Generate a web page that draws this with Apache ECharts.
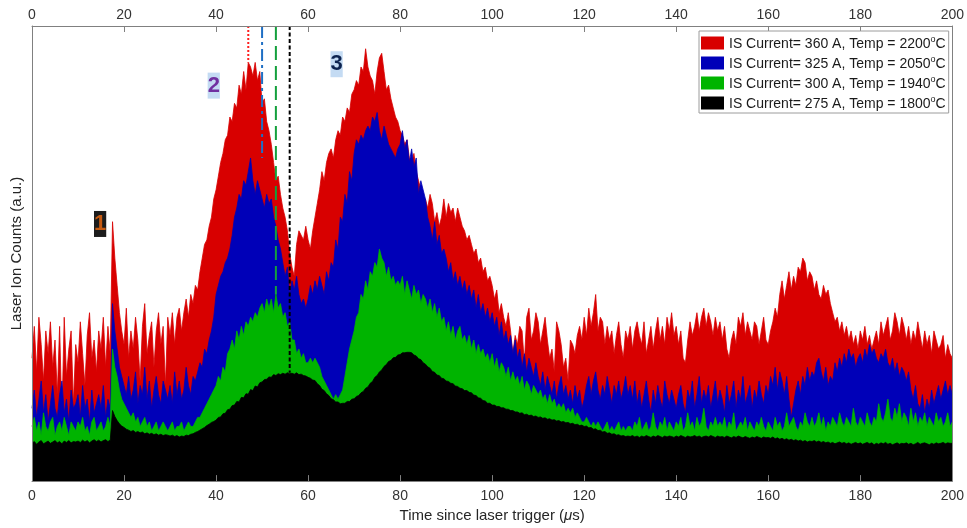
<!DOCTYPE html>
<html>
<head>
<meta charset="utf-8">
<title>Laser ion counts vs. time</title>
<script src="https://cdn.jsdelivr.net/npm/echarts@6/dist/echarts.min.js"></script>
<style>
  html, body { margin: 0; padding: 0; background: #ffffff; }
  #chart { width: 967px; height: 528px; }
</style>
</head>
<body>
<div id="chart"></div>
<script>
// Sampling step of the recorded traces (µs)
const T_STEP = 0.5;

// Ion counts (a.u.), one value per 0.5 µs from 0 to 200 µs
const redCounts = [
  27,34,24,36,30,22,33,28,35,25,31,19,34,14,36,23,29,33,17,30,
  26,35,28,21,32,37,27,31,24,33,29,36,25,34,28,57,49,43,37,33,
  30,38,27,33,29,36,31,22,34,39,28,32,35,25,33,37,30,34,21,36,
  32,37,30,36,38,33,37,40,36,41,39,43,42,46,49,52,53,56,58,62,
  64,67,70,72,75,76,80,79,83,82,87,85,90,86,92,91,89,92,88,90,
  83,84,79,77,74,70,66,67,63,60,58,55,50,47,45,52,55,54,53,56,
  53,51,55,58,61,64,68,66,70,72,73,71,75,77,76,80,79,82,81,85,
  86,88,87,91,90,95,91,89,88,85,90,93,94,90,86,87,84,82,80,79,
  77,76,74,75,71,70,72,68,66,64,58,62,60,63,61,57,59,56,58,62,
  58,61,59,60,57,60,58,56,55,53,54,52,50,51,48,49,46,47,44,45,
  43,40,42,37,39,36,34,37,33,28,32,30,34,33,26,36,38,31,33,37,
  35,30,33,36,31,27,29,24,35,33,30,25,27,22,31,30,28,32,34,31,
  36,32,38,34,37,41,33,36,35,30,34,31,33,28,32,35,30,27,33,31,
  34,29,33,35,32,30,35,28,31,34,29,33,36,31,34,30,36,33,37,32,
  34,30,33,27,26,31,35,32,34,37,33,36,38,34,37,35,32,36,33,35,
  31,34,29,27,31,33,30,36,34,37,32,35,33,31,35,34,30,33,36,31,
  30,33,35,38,36,41,44,40,43,46,42,45,43,47,46,49,48,44,46,45,
  42,44,41,40,43,41,42,39,37,35,36,33,35,32,34,31,33,30,32,29,
  33,31,34,30,32,29,31,33,30,35,32,34,36,31,33,37,35,32,36,34,
  31,34,30,33,31,35,32,29,33,30,32,28,33,31,29,30,32,27,30,28,
  27
];

const blueCounts = [
  16,20,14,18,22,15,19,13,17,21,16,14,19,22,15,18,13,20,16,17,
  19,14,21,16,18,13,20,15,17,19,16,21,14,18,16,39,33,29,25,23,
  21,19,23,18,20,24,17,21,19,25,18,22,16,20,23,19,17,22,20,18,
  21,17,24,19,22,18,20,25,21,19,23,22,24,26,25,29,28,31,33,36,
  41,43,45,46,48,49,51,54,58,60,63,62,66,65,68,71,66,63,66,64,
  62,60,63,61,62,58,56,53,51,48,45,47,41,44,42,45,41,39,40,38,
  40,43,41,44,42,45,43,41,46,44,48,47,53,51,58,57,63,61,68,66,
  72,75,74,76,75,77,78,77,80,79,81,77,75,78,76,74,73,72,71,73,
  74,77,73,75,70,73,69,71,63,66,64,62,58,56,53,57,52,54,50,51,
  49,46,48,44,46,43,45,42,44,41,43,40,42,38,41,37,39,36,38,35,
  37,34,36,32,35,31,33,30,32,28,31,27,29,25,28,24,27,25,23,26,
  23,21,24,20,23,21,19,22,18,21,23,19,21,18,20,17,21,18,20,16,
  18,21,23,19,22,24,20,18,21,19,23,20,17,21,19,22,18,20,23,19,
  21,18,22,17,20,16,19,22,18,15,20,17,21,18,16,22,19,17,20,18,
  16,19,21,17,15,20,18,22,16,19,23,17,20,18,21,16,19,22,17,20,
  18,15,21,17,19,22,16,20,18,23,17,19,21,16,20,18,22,19,17,21,
  19,23,21,25,20,24,22,19,23,18,14,17,20,22,19,23,21,25,22,24,
  23,26,27,24,22,25,21,23,22,26,24,27,25,28,26,29,27,28,25,27,
  28,26,29,27,30,28,29,27,26,28,27,29,26,25,27,24,26,23,25,24,
  22,24,20,18,21,17,16,19,15,18,16,20,17,19,21,18,20,22,19,21,
  19
];

const greenCounts = [
  12,14,11,13,10,15,12,11,13,14,10,12,13,11,14,12,10,13,12,11,
  13,12,14,11,12,10,13,14,11,12,13,11,12,14,12,29,25,23,20,18,
  17,16,15,14,15,13,14,12,13,14,12,13,11,12,13,11,12,13,12,11,
  12,13,11,12,12,13,11,12,13,12,12,13,14,14,15,16,17,18,19,20,
  21,23,22,25,24,28,29,31,29,33,31,34,32,35,34,36,35,37,36,38,
  39,37,40,38,40,37,41,38,39,36,37,34,35,31,31,28,29,27,28,26,
  26,27,26,27,26,25,23,22,21,20,19,18,19,18,19,20,23,26,29,31,
  33,36,37,41,40,44,42,46,45,48,47,51,49,48,45,47,44,45,43,44,
  43,45,41,44,42,40,43,41,42,39,41,40,38,40,37,39,36,38,35,36,
  33,35,32,34,31,33,34,31,32,30,32,29,31,28,30,28,29,27,28,26,
  28,25,27,24,26,25,23,25,22,24,22,23,21,23,20,22,21,19,21,20,
  19,20,18,19,17,19,17,18,16,17,16,17,15,16,15,16,14,15,14,13,
  13,14,13,12,13,12,13,12,11,12,13,11,12,11,12,13,11,12,11,12,
  12,11,13,12,14,11,12,13,11,12,15,12,11,13,12,14,11,13,12,11,
  13,12,14,11,12,15,12,13,11,14,12,13,16,12,11,13,12,14,12,13,
  12,14,11,13,12,15,11,12,13,12,14,11,13,12,11,13,12,14,12,11,
  13,12,11,14,12,13,11,12,15,12,13,14,12,11,13,12,15,13,12,14,
  12,13,15,12,14,11,13,12,14,13,12,15,13,12,14,13,12,16,13,12,
  14,13,12,15,13,12,14,13,17,14,13,15,18,14,13,16,14,17,13,15,
  14,12,16,13,15,12,14,13,15,12,14,13,12,15,13,14,12,13,15,12,
  13
];

const blackCounts = [
  8.3,8.7,8.1,8.6,8.9,8.2,8.5,8.8,8.3,8.6,8.9,8.4,8.7,8.2,8.8,8.5,8.9,8.4,8.7,8.6,
  8.8,8.5,9.0,8.6,8.9,8.4,8.8,9.1,8.7,9.0,8.6,8.9,9.1,8.7,9.0,15.5,14.2,13.3,12.6,12.1,
  11.8,11.4,11.2,10.9,11.1,10.7,10.9,10.6,10.8,10.4,10.6,10.3,10.5,10.2,10.4,10.1,10.3,10.0,10.2,10.1,
  9.9,10.1,9.8,10.0,9.7,9.9,9.8,10.1,10.0,10.3,10.4,10.7,10.9,11.2,11.5,11.8,12.2,12.5,12.9,13.1,
  13.4,14.0,14.1,14.8,14.9,15.7,15.8,16.6,16.7,17.5,17.4,18.4,18.3,19.2,19.1,20.1,19.9,20.9,20.7,21.6,
  21.8,22.3,22.4,22.9,22.8,23.4,23.2,23.6,23.4,23.7,23.5,23.8,23.6,23.7,23.5,23.8,23.4,23.5,23.2,23.1,
  22.8,22.6,22.2,22.1,21.4,21.0,20.2,19.9,19.2,18.8,18.1,17.9,17.4,17.4,17.0,17.1,17.1,17.5,17.5,18.0,
  18.1,18.6,18.8,19.4,19.7,20.4,20.7,21.5,21.9,22.8,23.2,24.0,24.4,25.2,25.6,26.3,26.5,27.1,27.2,27.7,
  27.8,28.2,28.2,28.3,28.3,28.2,27.7,27.5,26.9,26.7,26.0,25.7,25.1,24.8,24.1,23.9,23.3,23.2,22.6,22.5,
  22.0,21.9,21.5,21.4,20.9,20.8,20.4,20.3,19.9,19.9,19.5,19.4,18.9,18.8,18.3,18.2,17.7,17.6,17.1,17.1,
  16.7,16.7,16.4,16.4,16.1,16.1,15.8,15.8,15.5,15.5,15.2,15.2,14.9,15.0,14.6,14.7,14.4,14.5,14.2,14.3,
  14.0,14.1,13.8,13.9,13.6,13.7,13.4,13.5,13.2,13.3,13.0,13.1,12.8,12.9,12.6,12.7,12.4,12.5,12.2,12.3,
  12.0,12.1,11.7,11.8,11.4,11.5,11.1,11.2,10.8,10.9,10.5,10.6,10.3,10.4,10.1,10.2,9.9,10.0,9.8,9.9,
  9.8,10.0,9.7,9.9,9.6,9.9,9.7,10.0,9.8,9.6,9.9,9.7,10.0,9.8,9.6,9.9,9.7,9.9,9.8,9.6,
  9.9,9.7,10.0,9.8,9.6,9.9,9.7,9.8,10.0,9.7,9.9,9.6,9.8,9.9,9.7,10.0,9.8,9.6,9.9,9.7,
  9.8,9.6,9.9,9.7,9.5,9.8,9.6,9.9,9.7,9.5,9.8,9.6,9.4,9.7,9.5,9.8,9.6,9.4,9.7,9.5,
  9.6,9.4,9.7,9.3,9.5,9.2,9.4,9.1,9.3,9.0,9.2,8.9,9.1,8.8,9.0,8.7,8.9,8.6,8.8,8.7,
  8.9,8.6,8.8,8.5,8.7,8.4,8.6,8.3,8.5,8.2,8.4,8.6,8.3,8.5,8.2,8.4,8.1,8.3,8.5,8.2,
  8.4,8.1,8.3,8.5,8.2,8.4,8.0,8.3,8.1,8.4,8.2,8.5,8.1,8.3,8.0,8.2,8.4,8.1,8.3,8.2,
  8.4,8.1,8.3,8.0,8.2,8.5,8.1,8.3,8.4,8.2,8.0,8.3,8.1,8.4,8.2,8.3,8.5,8.2,8.4,8.3,
  8.3
];

// Legend entries (source current and oven temperature)
const legendNames = [
  'IS Current= 360 A, Temp = 2200°C',
  'IS Current= 325 A, Temp = 2050°C',
  'IS Current= 300 A, Temp = 1940°C',
  'IS Current= 275 A, Temp = 1800°C'
];

// Times (µs) of the second-peak maximum for each trace
const peakTimes = [47, 50, 53, 56];

// Numbered feature markers
const featureLabels = ['1', '2', '3'];

const Y_MAX = 100;
const FONT = '"Liberation Sans", Arial, Helvetica, sans-serif';

const times = redCounts.map((_, i) => i * T_STEP);
const toPairs = vals => vals.map((v, i) => [times[i], v]);

function localPeak(values, t, halfWidth) {
  let m = -Infinity;
  values.forEach((v, i) => {
    if (Math.abs(times[i] - t) <= halfWidth) m = Math.max(m, v);
  });
  return m;
}

const traces = [
  { values: redCounts,   color: '#d80000', marker: { color: '#ff1f1f', type: [2, 2] } },
  { values: blueCounts,  color: '#0000b8', marker: { color: '#1f6fc4', type: [12, 4, 3, 4] } },
  { values: greenCounts, color: '#00b400', marker: { color: '#14a03c', type: [14, 6] } },
  { values: blackCounts, color: '#000000', marker: { color: '#000000', type: [4, 2.5] } }
];

const areaSeries = traces.map((tr, k) => ({
  name: legendNames[k],
  type: 'line',
  data: toPairs(tr.values),
  symbol: 'none',
  showSymbol: false,
  silent: true,
  z: 2 + k,
  itemStyle: { color: tr.color },
  lineStyle: { color: tr.color, width: 0.8 },
  areaStyle: { color: tr.color, opacity: 1 }
}));

const peakSeries = traces.map((tr, k) => ({
  name: 'peak-' + k,
  type: 'line',
  data: [[peakTimes[k], Y_MAX], [peakTimes[k], localPeak(tr.values, peakTimes[k], 3)]],
  symbol: 'none',
  silent: true,
  z: 8,
  lineStyle: { color: tr.marker.color, width: 2, type: tr.marker.type }
}));

// Anchor of each numbered marker in (µs, counts) and its colours
const featureStyles = [
  { anchor: [14.8, 56.5], color: '#c55a11', backgroundColor: '#1c1c1c' },
  { anchor: [39.5, 86.9], color: '#7030a0', backgroundColor: '#c4dbf3' },
  { anchor: [66.2, 91.6], color: '#0c2350', backgroundColor: '#c4dbf3' }
];

const featureSeries = {
  name: 'features',
  type: 'scatter',
  symbolSize: 0,
  silent: true,
  z: 9,
  itemStyle: { opacity: 1 },
  emphasis: { disabled: true },
  data: featureLabels.map((txt, i) => ({
    value: featureStyles[i].anchor,
    itemStyle: { opacity: 1 },
    label: {
      show: true,
      position: 'inside',
      formatter: txt,
      opacity: 1,
      fontFamily: FONT,
      fontSize: 22,
      fontWeight: 'bold',
      lineHeight: 22,
      color: featureStyles[i].color,
      backgroundColor: featureStyles[i].backgroundColor,
      padding: [2, 0, 2, 0]
    }
  }))
};

const axisColor = '#808080';
const tickLabel = { color: '#333333', fontSize: 14, fontFamily: FONT };
const frameLine = { show: true, onZero: false, lineStyle: { color: axisColor, width: 1 } };

const option = {
  animation: false,
  backgroundColor: '#ffffff',
  grid: { left: 32, right: 14, top: 26, bottom: 44 },
  legend: {
    data: legendNames,
    orient: 'vertical',
    left: 699,
    top: 31,
    itemWidth: 23,
    itemHeight: 13,
    itemGap: 4,
    padding: [4, 3, 2, 2],
    icon: 'rect',
    selectedMode: false,
    borderColor: '#9c9c9c',
    borderWidth: 1,
    backgroundColor: '#ffffff',
    z: 12,
    formatter: name => {
      const parts = name.split('°');
      return '{t|' + parts[0] + '}{sup|o}{t|' + parts[1] + '}';
    },
    textStyle: {
      color: '#1a1a1a',
      fontSize: 14,
      fontFamily: FONT,
      rich: {
        t: { fontSize: 14, fontFamily: FONT, color: '#1a1a1a', lineHeight: 16, verticalAlign: 'bottom' },
        sup: { fontSize: 9, fontFamily: FONT, color: '#1a1a1a', lineHeight: 8, verticalAlign: 'top' }
      }
    }
  },
  xAxis: [
    {
      type: 'value', position: 'bottom', min: 0, max: 200, interval: 20, z: 10,
      name: 'Time since laser trigger ({mu|μ}s)',
      nameLocation: 'middle',
      nameGap: 26,
      nameTextStyle: {
        color: '#262626', fontSize: 15, fontFamily: FONT,
        rich: { mu: { fontStyle: 'italic', fontSize: 15, fontFamily: FONT, color: '#262626' } }
      },
      axisLine: frameLine,
      axisTick: { show: true, inside: true, length: 6, lineStyle: { color: axisColor } },
      axisLabel: Object.assign({ margin: 8 }, tickLabel),
      splitLine: { show: false }
    },
    {
      type: 'value', position: 'top', min: 0, max: 200, interval: 20, z: 10,
      axisLine: frameLine,
      axisTick: { show: true, inside: true, length: 6, lineStyle: { color: axisColor } },
      axisLabel: Object.assign({ margin: 4 }, tickLabel),
      splitLine: { show: false }
    }
  ],
  yAxis: [
    {
      type: 'value', position: 'left', min: 0, max: Y_MAX, z: 10,
      name: 'Laser Ion Counts (a.u.)',
      nameLocation: 'middle',
      nameGap: 8,
      nameTextStyle: { color: '#262626', fontSize: 15, fontFamily: FONT },
      axisLine: frameLine,
      axisTick: { show: false },
      axisLabel: { show: false },
      splitLine: { show: false }
    },
    {
      type: 'value', position: 'right', min: 0, max: Y_MAX, z: 10,
      axisLine: frameLine,
      axisTick: { show: false },
      axisLabel: { show: false },
      splitLine: { show: false }
    }
  ],
  series: [...areaSeries, ...peakSeries, featureSeries]
};

const chart = echarts.init(document.getElementById('chart'), null, { renderer: 'canvas' });
chart.setOption(option);
</script>
</body>
</html>
